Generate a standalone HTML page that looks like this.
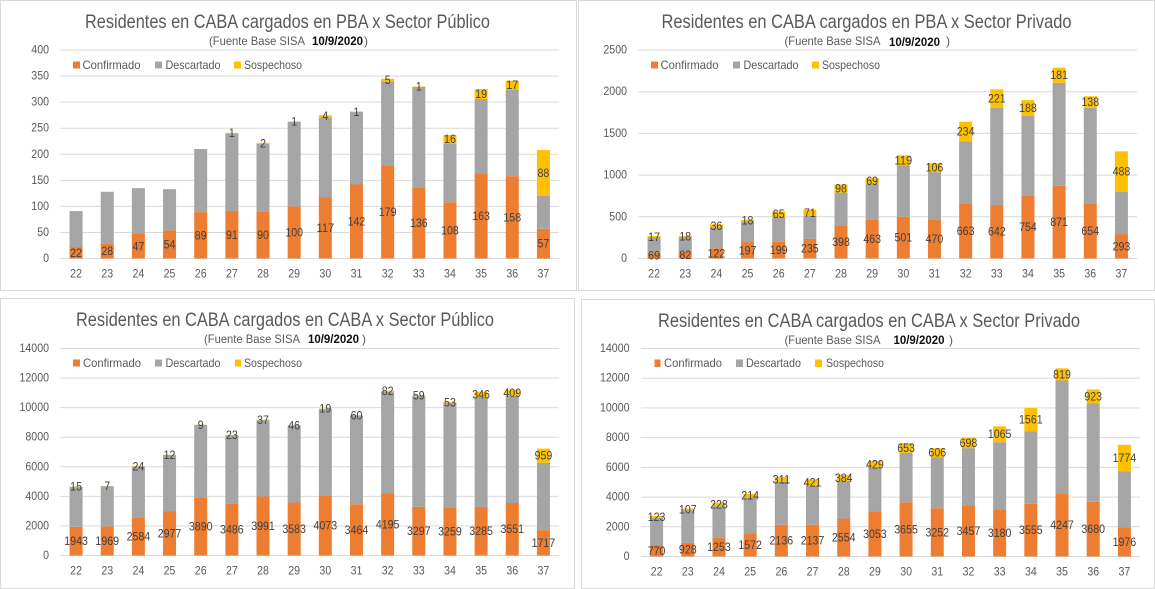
<!DOCTYPE html>
<html lang="es">
<head>
<meta charset="utf-8">
<title>Residentes en CABA</title>
<style>
html,body{margin:0;padding:0;background:#fff;width:1155px;height:589px;overflow:hidden}
svg{display:block}
text{font-family:"Liberation Sans",sans-serif}
.frame{fill:#fff;stroke:#d9d9d9;stroke-width:1}
.title{font-size:19px;fill:#595959}
.sub{font-size:12px;fill:#595959}
.date{font-size:11.5px;font-weight:bold;fill:#0d0d0d}
.leg{font-size:12px;fill:#595959}
.tick{font-size:12px;fill:#595959}
.val{font-size:12px;fill:#404040}
</style>
</head>
<body>
<svg id="root" xmlns="http://www.w3.org/2000/svg" width="1155" height="589" viewBox="0 0 1155 589">

<g id="panel-pba-publico">
  <rect class="frame" x="0.5" y="0.5" width="576" height="290"/>
  <text class="title" x="85" y="28" textLength="405" lengthAdjust="spacingAndGlyphs">Residentes en  CABA cargados en PBA x Sector Público</text>
  <text class="sub" x="209" y="45" textLength="96" lengthAdjust="spacingAndGlyphs">(Fuente  Base SISA</text>
  <text class="date" x="312" y="45" textLength="51" lengthAdjust="spacingAndGlyphs">10/9/2020</text>
  <text class="sub" x="364" y="45">)</text>
  <g id="marks-pba-publico"></g>
  <g>
    <rect x="73" y="61.5" width="7" height="7" fill="#ED7D31"/>
    <text class="leg" x="82.5" y="69" textLength="58" lengthAdjust="spacingAndGlyphs">Confirmado</text>
    <rect x="155" y="61.5" width="7" height="7" fill="#A5A5A5"/>
    <text class="leg" x="165.5" y="69" textLength="55" lengthAdjust="spacingAndGlyphs">Descartado</text>
    <rect x="234" y="61.5" width="7" height="7" fill="#FFC000"/>
    <text class="leg" x="244" y="69" textLength="58" lengthAdjust="spacingAndGlyphs">Sospechoso</text>
  </g>
</g>

<g id="panel-pba-privado">
  <rect class="frame" x="578.5" y="0.5" width="576" height="290"/>
  <text class="title" x="661.5" y="28" textLength="410" lengthAdjust="spacingAndGlyphs">Residentes en  CABA cargados en PBA x Sector Privado</text>
  <text class="sub" x="784.5" y="45" textLength="96" lengthAdjust="spacingAndGlyphs">(Fuente  Base SISA</text>
  <text class="date" x="889" y="46" textLength="51" lengthAdjust="spacingAndGlyphs">10/9/2020</text>
  <text class="sub" x="946" y="45">)</text>
  <g id="marks-pba-privado"></g>
  <g>
    <rect x="651" y="61.5" width="7" height="7" fill="#ED7D31"/>
    <text class="leg" x="660.5" y="69" textLength="58" lengthAdjust="spacingAndGlyphs">Confirmado</text>
    <rect x="733" y="61.5" width="7" height="7" fill="#A5A5A5"/>
    <text class="leg" x="743.5" y="69" textLength="55" lengthAdjust="spacingAndGlyphs">Descartado</text>
    <rect x="812" y="61.5" width="7" height="7" fill="#FFC000"/>
    <text class="leg" x="822" y="69" textLength="58" lengthAdjust="spacingAndGlyphs">Sospechoso</text>
  </g>
</g>

<g id="panel-caba-publico">
  <rect class="frame" x="0.5" y="298.5" width="574" height="290"/>
  <text class="title" x="76" y="326" textLength="418" lengthAdjust="spacingAndGlyphs">Residentes en  CABA cargados en CABA x Sector Público</text>
  <text class="sub" x="204" y="343" textLength="96" lengthAdjust="spacingAndGlyphs">(Fuente  Base SISA</text>
  <text class="date" x="308" y="343" textLength="51" lengthAdjust="spacingAndGlyphs">10/9/2020</text>
  <text class="sub" x="362" y="343">)</text>
  <g id="marks-caba-publico"></g>
  <g>
    <rect x="73" y="359.5" width="7" height="7" fill="#ED7D31"/>
    <text class="leg" x="83" y="367" textLength="58" lengthAdjust="spacingAndGlyphs">Confirmado</text>
    <rect x="155" y="359.5" width="7" height="7" fill="#A5A5A5"/>
    <text class="leg" x="165.5" y="367" textLength="55" lengthAdjust="spacingAndGlyphs">Descartado</text>
    <rect x="235" y="359.5" width="6" height="7" fill="#FFC000"/>
    <text class="leg" x="244" y="367" textLength="58" lengthAdjust="spacingAndGlyphs">Sospechoso</text>
  </g>
</g>

<g id="panel-caba-privado">
  <rect class="frame" x="581.5" y="299.5" width="573" height="289"/>
  <text class="title" x="658" y="327" textLength="422" lengthAdjust="spacingAndGlyphs">Residentes en  CABA cargados en CABA x Sector Privado</text>
  <text class="sub" x="784.5" y="344" textLength="96" lengthAdjust="spacingAndGlyphs">(Fuente  Base SISA</text>
  <text class="date" x="893.5" y="344" textLength="51" lengthAdjust="spacingAndGlyphs">10/9/2020</text>
  <text class="sub" x="949" y="344">)</text>
  <g id="marks-caba-privado"></g>
  <g>
    <rect x="654.5" y="359.5" width="6" height="7.5" fill="#ED7D31"/>
    <text class="leg" x="664" y="367" textLength="58" lengthAdjust="spacingAndGlyphs">Confirmado</text>
    <rect x="736" y="359.5" width="7" height="7.5" fill="#A5A5A5"/>
    <text class="leg" x="746" y="367" textLength="55" lengthAdjust="spacingAndGlyphs">Descartado</text>
    <rect x="815" y="359.5" width="7" height="7.5" fill="#FFC000"/>
    <text class="leg" x="826" y="367" textLength="58" lengthAdjust="spacingAndGlyphs">Sospechoso</text>
  </g>
</g>
</svg>

<script>
const weeks = [22,23,24,25,26,27,28,29,30,31,32,33,34,35,36,37];

const ticksPbaPublico = [0,50,100,150,200,250,300,350,400];
const confirmadoPbaPublico = [22,28,47,54,89,91,90,100,117,142,179,136,108,163,158,57];
const descartadoPbaPublico = [69,100,88,79,121,149,130,162,154,139,161,193,113,143,166,63];
const sospechosoPbaPublico = [0,0,0,0,0,1,2,1,4,1,5,1,16,19,17,88];

const ticksPbaPrivado = [0,500,1000,1500,2000,2500];
const confirmadoPbaPrivado = [69,82,122,197,199,235,398,463,501,470,663,642,754,871,654,293];
const descartadoPbaPrivado = [183,170,251,248,301,278,391,430,617,566,743,1165,957,1236,1153,504];
const sospechosoPbaPrivado = [17,18,36,18,65,71,98,69,119,106,234,221,188,181,138,488];

const ticksCabaPublico = [0,2000,4000,6000,8000,10000,12000,14000];
const confirmadoCabaPublico = [1943,1969,2584,2977,3890,3486,3991,3583,4073,3464,4195,3297,3259,3285,3551,1717];
const descartadoCabaPublico = [2700,2720,3435,3831,4947,4652,5161,5186,5846,5981,6874,7479,7066,7445,7247,4550];
const sospechosoCabaPublico = [15,7,24,12,9,23,37,46,19,60,82,59,53,346,409,959];

const ticksCabaPrivado = [0,2000,4000,6000,8000,10000,12000,14000];
const confirmadoCabaPrivado = [770,928,1253,1572,2136,2137,2554,3053,3655,3252,3457,3180,3555,4247,3680,1976];
const descartadoCabaPrivado = [1833,2191,2135,2422,2890,2620,2539,2938,3323,3434,3835,4516,4881,7600,6641,3768];
const sospechosoCabaPrivado = [123,107,228,214,311,421,384,429,653,606,698,1065,1561,819,923,1774];

const NS = 'http://www.w3.org/2000/svg';
const BAR_W = 13;
const DIGIT_W = 5.9;

function svgEl(parent, tag) {
  const el = document.createElementNS(NS, tag);
  parent.appendChild(el);
  return el;
}

function fitDigits(el, value) {
  el.setAttribute('textLength', String(value).length * DIGIT_W);
  el.setAttribute('lengthAdjust', 'spacingAndGlyphs');
}

function drawChart(host, frame, ticks, confirmado, descartado, sospechoso) {
  const maxTick = ticks[ticks.length - 1];
  const yScale = v => frame.y0 - (v / maxTick) * (frame.y0 - frame.yTop);
  const band = (frame.xR - frame.xL) / weeks.length;
  const xScale = i => frame.xL + band * (i + 0.5);

  ticks.forEach(t => {
    const line = svgEl(host, 'line');
    
    
    line.setAttribute('x1', frame.xL);
    line.setAttribute('x2', frame.xR);
    line.setAttribute('y1', yScale(t));
    line.setAttribute('y2', yScale(t));
    line.setAttribute('stroke', '#d9d9d9');
    line.setAttribute('stroke-width', '1');

    const label = svgEl(host, 'text');
    
    
    label.setAttribute('class', 'tick');
    label.setAttribute('x', frame.xL - 11.5);
    label.setAttribute('y', yScale(t) + 3.5);
    label.setAttribute('text-anchor', 'end');
    fitDigits(label, t);
    label.textContent = t;
  });

  weeks.forEach((week, i) => {
    const cx = xScale(i);
    const segments = [
      [confirmado[i], '#ED7D31', 'bar-confirmado', true],
      [descartado[i], '#A5A5A5', 'bar-descartado', false],
      [sospechoso[i], '#FFC000', 'bar-sospechoso', true]
    ];
    let base = 0;
    const labels = [];
    segments.forEach(seg => {
      const value = seg[0];
      const top = base + value;
      if (value > 0) {
        const bar = svgEl(host, 'rect');
        
        
        bar.setAttribute('x', cx - BAR_W / 2);
        bar.setAttribute('width', BAR_W);
        bar.setAttribute('y', yScale(top));
        bar.setAttribute('height', yScale(base) - yScale(top));
        bar.setAttribute('fill', seg[1]);
        if (seg[3]) labels.push([value, (yScale(base) + yScale(top)) / 2]);
      }
      base = top;
    });
    labels.forEach(item => {
      const val = svgEl(host, 'text');
      
      
      val.setAttribute('class', 'val');
      val.setAttribute('x', cx);
      val.setAttribute('y', item[1] + 4);
      val.setAttribute('text-anchor', 'middle');
      fitDigits(val, item[0]);
      val.textContent = item[0];
    });

    const xLabel = svgEl(host, 'text');
    
    
    xLabel.setAttribute('class', 'tick');
    xLabel.setAttribute('x', cx);
    xLabel.setAttribute('y', frame.y0 + 19);
    xLabel.setAttribute('text-anchor', 'middle');
    fitDigits(xLabel, week);
    xLabel.textContent = week;
  });
}

drawChart(document.getElementById('marks-pba-publico'), {xL:60.5,xR:559,yTop:50,y0:258.5}, ticksPbaPublico, confirmadoPbaPublico, descartadoPbaPublico, sospechosoPbaPublico);
drawChart(document.getElementById('marks-pba-privado'), {xL:638.5,xR:1137,yTop:50,y0:258.5}, ticksPbaPrivado, confirmadoPbaPrivado, descartadoPbaPrivado, sospechosoPbaPrivado);
drawChart(document.getElementById('marks-caba-publico'), {xL:60.5,xR:559,yTop:348.5,y0:555.5}, ticksCabaPublico, confirmadoCabaPublico, descartadoCabaPublico, sospechosoCabaPublico);
drawChart(document.getElementById('marks-caba-privado'), {xL:641,xR:1140,yTop:348.5,y0:556.5}, ticksCabaPrivado, confirmadoCabaPrivado, descartadoCabaPrivado, sospechosoCabaPrivado);
</script>
</body>
</html>
